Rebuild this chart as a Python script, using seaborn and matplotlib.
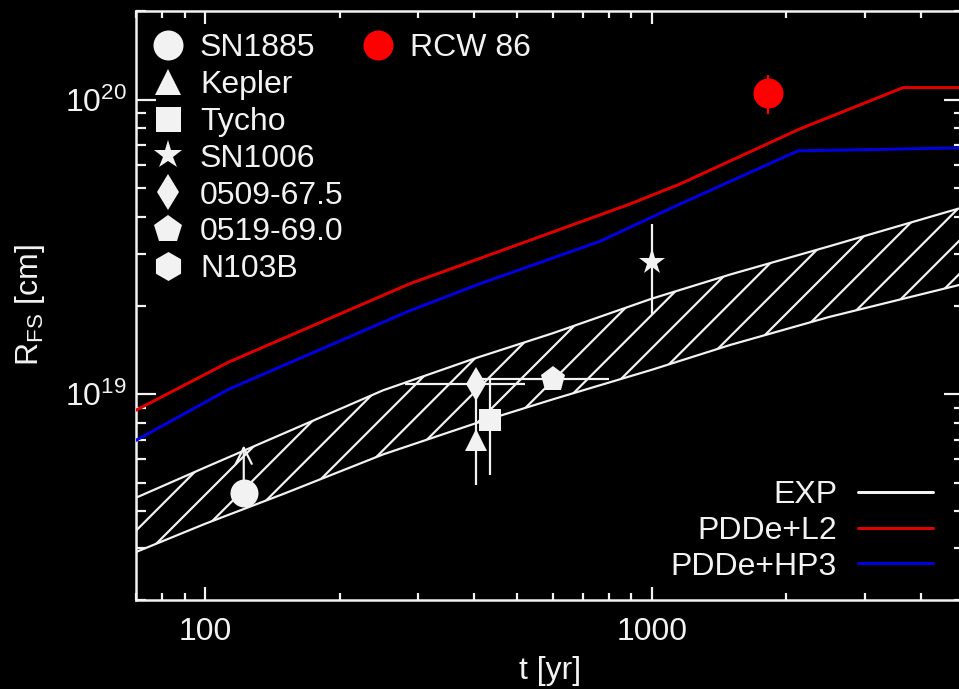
import matplotlib
matplotlib.use("Agg")
import matplotlib.pyplot as plt
import matplotlib.ticker as mticker
from matplotlib.lines import Line2D
import pandas as pd
import seaborn as sns

W, H, DPI = 959, 689, 300
PT = 72.0 / DPI  # one output pixel expressed in points

# ---- model forward-shock radius R_FS [cm] versus age t [yr] ----
l2_t = [70, 113, 287, 412, 893, 1156, 2147, 3654, 5000]
l2_r = [8.82e18, 1.286e19, 2.37e19, 2.89e19, 4.42e19, 5.17e19, 7.96e19, 1.099e20, 1.099e20]

hp3_t = [70, 113, 287, 412, 764, 1156, 2123, 5000]
hp3_r = [6.97e18, 1.04e19, 1.92e19, 2.37e19, 3.30e19, 4.42e19, 6.70e19, 6.86e19]

exp_t = [70, 100, 150, 250, 400, 600, 1000, 1500, 2500, 5000]
exp_lo = [2.91e18, 3.63e18, 4.59e18, 6.24e18, 7.93e18, 9.6e18, 1.21e19, 1.47e19, 1.83e19, 2.37e19]
exp_hi = [4.45e18, 5.64e18, 7.36e18, 1.03e19, 1.32e19, 1.61e19, 2.11e19, 2.55e19, 3.18e19, 4.32e19]

# ---- observed remnants ----
obs_names = ["Kepler", "Tycho", "SN1006", "0509-67.5", "0519-69.0", "RCW 86"]
obs_age = [405, 435, 1000, 403, 600, 1820]
obs_age_lo = [405, 435, 1000, 280, 400, 1820]
obs_age_hi = [405, 435, 1000, 520, 800, 1820]
obs_r = [7.0e18, 8.15e18, 2.82e19, 1.08e19, 1.125e19, 1.057e20]
obs_r_lo = [4.93e18, 5.3e18, 1.876e19, 1.08e19, 1.125e19, 8.95e19]
obs_r_hi = [9.9e18, 1.125e19, 3.78e19, 1.08e19, 1.125e19, 1.21e20]

# SN1885: radius is a lower limit
sn1885_age = 122
sn1885_r = 4.6e18
sn1885_r_limit = 6.7e18

legend_names = ["SN1885", "Kepler", "Tycho", "SN1006", "0509-67.5", "0519-69.0", "N103B"]
model_names = ["EXP", "PDDe+L2", "PDDe+HP3"]

# ---- styling ----
FG = "#f2f2f2"
RED = "#e00000"
BLUE = "#0000e0"
MARKER = {"SN1885": "o", "Kepler": "^", "Tycho": "s", "SN1006": "*",
          "0509-67.5": "d", "0519-69.0": "p", "N103B": "h", "RCW 86": "o"}
SIZE_PX = {"SN1885": 28, "Kepler": 22, "Tycho": 23, "SN1006": 28,
           "0509-67.5": 24, "0519-69.0": 26, "N103B": 28, "RCW 86": 30}
LEG_SIZE_PX = {"SN1885": 30, "Kepler": 27, "Tycho": 25, "SN1006": 30,
               "0509-67.5": 25, "0519-69.0": 29, "N103B": 29, "RCW 86": 30}
COLOR = {n: FG for n in MARKER}
COLOR["RCW 86"] = "#ff0000"
FS = 32 * PT

sns.set_theme(style="ticks")
plt.rcParams.update({
    "font.family": ["Liberation Sans", "DejaVu Sans"],
    "mathtext.fontset": "custom",
    "mathtext.rm": "Liberation Sans",
    "mathtext.it": "Liberation Sans:italic",
    "mathtext.bf": "Liberation Sans:bold",
    "mathtext.default": "regular",
    "figure.facecolor": "black",
    "axes.facecolor": "black",
    "savefig.facecolor": "black",
    "axes.edgecolor": FG,
    "axes.linewidth": 2.5 * PT,
    "text.color": FG,
    "axes.labelcolor": FG,
    "xtick.color": FG,
    "ytick.color": FG,
    "hatch.linewidth": 2.2 * PT,
    "hatch.color": FG,
    "font.size": FS,
})

fig = plt.figure(figsize=(W / DPI, H / DPI), dpi=DPI)
L, R, B, T = 136, 964, 600, 11
ax = fig.add_axes([L / W, 1 - B / H, (R - L) / W, (B - T) / H])
ax.set_xscale("log")
ax.set_yscale("log")

# EXP model band (hatched)
ax.fill_between(exp_t, exp_lo, exp_hi, facecolor="none", edgecolor=FG,
                hatch="///", linewidth=2.2 * PT, zorder=2)

# delayed-detonation model curves
models = pd.concat([
    pd.DataFrame({"t": l2_t, "R": l2_r, "model": "PDDe+L2"}),
    pd.DataFrame({"t": hp3_t, "R": hp3_r, "model": "PDDe+HP3"}),
])
sns.lineplot(data=models, x="t", y="R", hue="model",
             palette={"PDDe+L2": RED, "PDDe+HP3": BLUE},
             estimator=None, sort=False, linewidth=3 * PT,
             legend=False, ax=ax, zorder=3)

# observations with error bars
for i, name in enumerate(obs_names):
    ax.errorbar([obs_age[i]], [obs_r[i]],
                xerr=[[obs_age[i] - obs_age_lo[i]], [obs_age_hi[i] - obs_age[i]]],
                yerr=[[obs_r[i] - obs_r_lo[i]], [obs_r_hi[i] - obs_r[i]]],
                fmt=MARKER[name], ms=SIZE_PX[name] * PT,
                mfc=COLOR[name], mec=COLOR[name], mew=0,
                ecolor=COLOR[name], elinewidth=2.2 * PT, capsize=0, zorder=5)

# SN1885 lower limit
ax.annotate("", xy=(sn1885_age, sn1885_r_limit), xytext=(sn1885_age, sn1885_r),
            arrowprops=dict(arrowstyle="->", color=FG, lw=2.2 * PT,
                            mutation_scale=40 * PT, shrinkA=0, shrinkB=0),
            zorder=4)
ax.plot([sn1885_age], [sn1885_r], ls="none", marker=MARKER["SN1885"],
        ms=SIZE_PX["SN1885"] * PT, mfc=FG, mec=FG, mew=0, zorder=5)

ax.set_xlim(70, 5000)
ax.set_ylim(2e18, 2e20)

# axes, ticks, labels
ax.xaxis.set_major_formatter(mticker.FuncFormatter(lambda v, _: f"{v:g}"))
ax.xaxis.set_minor_formatter(mticker.NullFormatter())
ax.yaxis.set_minor_formatter(mticker.NullFormatter())
ax.tick_params(which="both", direction="in", top=True, right=True,
               width=2.2 * PT, labelsize=FS)
ax.tick_params(axis="x", which="major", length=13 * PT, pad=17 * PT)
ax.tick_params(axis="x", which="minor", length=7 * PT)
ax.tick_params(axis="y", which="major", length=20 * PT, pad=9 * PT)
ax.tick_params(axis="y", which="minor", length=10 * PT)
for s in ax.spines.values():
    s.set_color(FG)

ax.set_xlabel("t [yr]", fontsize=FS, va="center")
ax.xaxis.set_label_coords(0.5, -(671 - B) / (B - T))
ax.set_ylabel("R$_{FS}$ [cm]", fontsize=FS, va="center")
ax.yaxis.set_label_coords((30 - L) / (R - L), 0.5)

# legends
obs_handles = [Line2D([], [], ls="none", marker=MARKER[n], ms=LEG_SIZE_PX[n] * PT,
                      mfc=COLOR[n], mec=COLOR[n], mew=0, label=n)
               for n in legend_names]
leg1 = ax.legend(handles=obs_handles, loc="upper left",
                 bbox_to_anchor=(152 / W, 1 - 33 / H), bbox_transform=fig.transFigure,
                 frameon=False, borderpad=0, borderaxespad=0, handlelength=1.0,
                 handletextpad=0.5, labelspacing=0.215, fontsize=FS, labelcolor=FG)
ax.add_artist(leg1)

rcw_handle = [Line2D([], [], ls="none", marker=MARKER["RCW 86"], ms=LEG_SIZE_PX["RCW 86"] * PT,
                     mfc=COLOR["RCW 86"], mec=COLOR["RCW 86"], mew=0, label="RCW 86")]
leg2 = ax.legend(handles=rcw_handle, loc="upper left",
                 bbox_to_anchor=(362 / W, 1 - 33 / H), bbox_transform=fig.transFigure,
                 frameon=False, borderpad=0, borderaxespad=0, handlelength=1.0,
                 handletextpad=0.5, fontsize=FS, labelcolor=FG)
ax.add_artist(leg2)

model_handles = [Line2D([], [], color=c, lw=3 * PT, label=n)
                 for n, c in zip(model_names, [FG, RED, BLUE])]
ax.legend(handles=model_handles, loc="upper right", markerfirst=False,
          bbox_to_anchor=(933 / W, 1 - 480 / H), bbox_transform=fig.transFigure,
          frameon=False, borderpad=0, borderaxespad=0, handlelength=2.34,
          handletextpad=0.66, labelspacing=0.18, fontsize=FS, labelcolor=FG)

fig.savefig("out.png", dpi=DPI)
